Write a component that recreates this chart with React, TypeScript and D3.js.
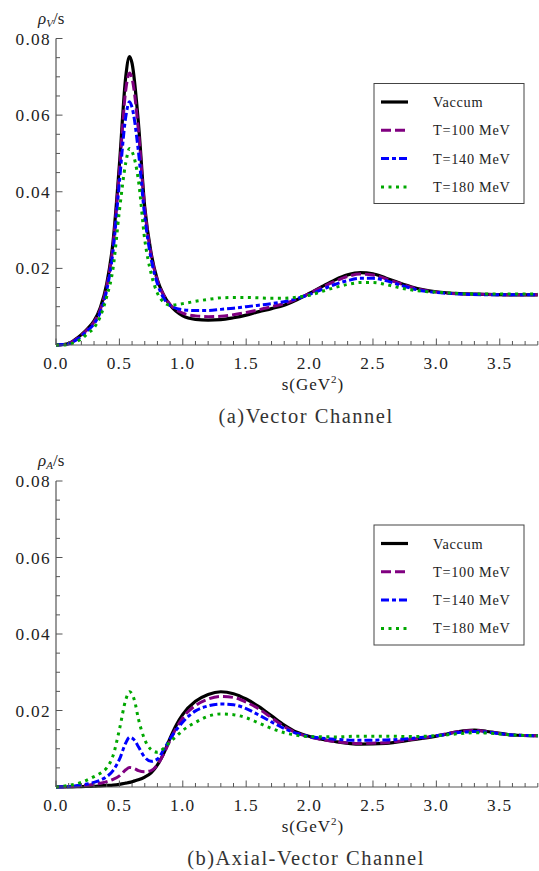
import React from "react";
import * as d3 from "d3";

// ---------- data ----------
const sTop = [0, 0.05, 0.1, 0.15, 0.2, 0.25, 0.3, 0.35, 0.4, 0.45, 0.5, 0.55, 0.58, 0.6, 0.65, 0.7, 0.75, 0.8, 0.85, 0.9, 1.0, 1.1, 1.2, 1.3, 1.4, 1.5, 1.6, 1.7, 1.8, 1.9, 2.0, 2.1, 2.2, 2.3, 2.4, 2.5, 2.6, 2.7, 2.8, 2.9, 3.0, 3.2, 3.4, 3.6, 3.8];

const vecVacuum = [0, 0.0001, 0.0004, 0.0014, 0.0027, 0.0043, 0.0063, 0.0098, 0.016, 0.027, 0.047, 0.07, 0.0753, 0.0735, 0.058, 0.036, 0.024, 0.017, 0.013, 0.0104, 0.0076, 0.0067, 0.0065, 0.0066, 0.0071, 0.0078, 0.0087, 0.0095, 0.0104, 0.0118, 0.0135, 0.0153, 0.017, 0.0183, 0.0189, 0.0186, 0.0175, 0.0163, 0.0152, 0.0144, 0.0139, 0.0134, 0.0132, 0.0131, 0.0131];
const vecT100 = [0, 0.0001, 0.0004, 0.0013, 0.0026, 0.0041, 0.006, 0.0093, 0.0153, 0.026, 0.0455, 0.0665, 0.071, 0.0695, 0.056, 0.0355, 0.0237, 0.0168, 0.013, 0.0106, 0.0083, 0.0076, 0.0074, 0.0075, 0.0079, 0.0085, 0.0092, 0.01, 0.0108, 0.012, 0.0135, 0.0151, 0.0166, 0.0179, 0.0185, 0.0183, 0.0173, 0.0162, 0.0151, 0.0143, 0.0138, 0.0133, 0.0132, 0.0131, 0.0131];
const vecT140 = [0, 0.0001, 0.0003, 0.0011, 0.0023, 0.0038, 0.0055, 0.0086, 0.0143, 0.0245, 0.0425, 0.0595, 0.0635, 0.062, 0.0505, 0.0335, 0.0225, 0.016, 0.0122, 0.0103, 0.0092, 0.009, 0.009, 0.0093, 0.0096, 0.01, 0.0104, 0.0108, 0.0113, 0.0121, 0.0132, 0.0145, 0.0158, 0.0168, 0.0174, 0.0174, 0.0168, 0.0158, 0.0148, 0.0141, 0.0137, 0.0133, 0.0131, 0.0131, 0.0131];
const vecT180 = [0, 0, 0.0002, 0.0007, 0.0016, 0.003, 0.0045, 0.0075, 0.0126, 0.02, 0.035, 0.0475, 0.0513, 0.0505, 0.043, 0.0275, 0.0187, 0.0135, 0.0112, 0.0104, 0.0108, 0.0114, 0.0119, 0.0123, 0.0124, 0.0124, 0.0123, 0.0122, 0.0122, 0.0125, 0.013, 0.014, 0.015, 0.0158, 0.0163, 0.0163, 0.0158, 0.015, 0.0144, 0.014, 0.0138, 0.0134, 0.0133, 0.0133, 0.0133];

const sBot = [0, 0.1, 0.2, 0.3, 0.35, 0.4, 0.45, 0.5, 0.55, 0.58, 0.62, 0.65, 0.7, 0.75, 0.8, 0.85, 0.9, 0.95, 1.0, 1.1, 1.2, 1.3, 1.4, 1.5, 1.6, 1.7, 1.8, 1.9, 2.0, 2.2, 2.4, 2.6, 2.8, 3.0, 3.2, 3.3, 3.4, 3.6, 3.8];

const axVacuum = [0, 0, 0.0001, 0.0002, 0.0003, 0.0004, 0.0005, 0.0007, 0.001, 0.0012, 0.0016, 0.0019, 0.0026, 0.0037, 0.0058, 0.0088, 0.0128, 0.0163, 0.019, 0.0224, 0.0242, 0.0249, 0.0244, 0.023, 0.021, 0.0186, 0.0162, 0.0143, 0.0132, 0.0119, 0.0112, 0.0114, 0.0123, 0.0133, 0.0146, 0.0149, 0.0145, 0.0136, 0.0134];
const axT100 = [0, 0.0001, 0.0003, 0.0007, 0.001, 0.0014, 0.002, 0.0029, 0.0045, 0.0051, 0.0048, 0.0043, 0.004, 0.0043, 0.0058, 0.0087, 0.0122, 0.0155, 0.0181, 0.0213, 0.023, 0.0237, 0.0234, 0.0222, 0.0204, 0.0181, 0.0158, 0.0141, 0.0131, 0.0119, 0.0114, 0.0116, 0.0124, 0.0134, 0.0146, 0.0148, 0.0145, 0.0136, 0.0134];
const axT140 = [0, 0.0001, 0.0005, 0.0012, 0.0018, 0.0027, 0.0043, 0.0072, 0.0115, 0.013, 0.0122, 0.0105, 0.0078, 0.0067, 0.0073, 0.0098, 0.0126, 0.015, 0.017, 0.0199, 0.0212, 0.0217, 0.0215, 0.0205, 0.0188, 0.017, 0.0153, 0.014, 0.0132, 0.0125, 0.0122, 0.0123, 0.0127, 0.0134, 0.0143, 0.0145, 0.0143, 0.0136, 0.0134];
const axT180 = [0, 0.0004, 0.0012, 0.0027, 0.0036, 0.005, 0.0082, 0.015, 0.0228, 0.0249, 0.0225, 0.0178, 0.0124, 0.0098, 0.0091, 0.0101, 0.0118, 0.0133, 0.0148, 0.0169, 0.0185, 0.0191, 0.0189, 0.0181, 0.0167, 0.0153, 0.0142, 0.0135, 0.0132, 0.0131, 0.0133, 0.0133, 0.0132, 0.0134, 0.014, 0.0142, 0.0141, 0.0136, 0.0134];

const seriesNames = ["Vaccum", "T=100 MeV", "T=140 MeV", "T=180 MeV"];
const xMajorTicks = [0, 0.5, 1.0, 1.5, 2.0, 2.5, 3.0, 3.5];
const yMajorTicks = [0.02, 0.04, 0.06, 0.08];

// ---------- styles ----------
const colors = ["#000000", "#800080", "#0000ff", "#00a800"];
const dashes = ["", "10,4", "8,3,4,3", "3,4.5"];
const widths = [3.2, 3, 3, 3];
const axisColor = "#555";
const FONT = "Liberation Serif, Times New Roman, serif";

const W = 539;
const H = 871;
const x0 = 56;
const x1 = 537.8;

const xScale = d3.scaleLinear().domain([0, 3.8]).range([x0, x1]);

interface PanelProps {
  top: number;
  bottom: number;
  s: number[];
  series: number[][];
  sub: string;
  caption: string;
  legendTop: number;
}

function Panel({ top, bottom, s, series, sub, caption, legendTop }: PanelProps) {
  const yScale = d3.scaleLinear().domain([0, 0.08]).range([bottom, top]);
  const line = (vals: number[]) =>
    d3
      .line<number>()
      .x((_, i) => xScale(s[i]))
      .y((v) => yScale(v))
      .curve(d3.curveMonotoneX)(vals) || "";

  const xMinor = d3.range(0, 39).map((k) => k / 10).filter((v) => v <= 3.8 + 1e-9);
  const yMinor = d3.range(1, 17).map((k) => k * 0.005);

  const legX = 374;
  const legW = 150;
  const legH = 120;
  const rowY = (i: number) => legendTop + 18.5 + i * 28.3;

  return (
    <g>
      {series.map((vals, i) => (
        <path
          key={i}
          d={line(vals)}
          fill="none"
          stroke={colors[i]}
          strokeWidth={widths[i]}
          strokeDasharray={dashes[i] || undefined}
          strokeLinejoin="round"
        />
      ))}
      <line x1={x0} x2={x1} y1={bottom} y2={bottom} stroke={axisColor} strokeWidth={1.2} />
      <line x1={x0} x2={x0} y1={top} y2={bottom} stroke={axisColor} strokeWidth={1.2} />
      {xMinor.map((v, i) => {
        const major = xMajorTicks.some((m) => Math.abs(m - v) < 1e-6);
        return (
          <line
            key={"xm" + i}
            x1={xScale(v)}
            x2={xScale(v)}
            y1={bottom}
            y2={bottom - (major ? 6.5 : 4)}
            stroke={axisColor}
            strokeWidth={1}
          />
        );
      })}
      {yMinor.map((v, i) => {
        const major = yMajorTicks.some((m) => Math.abs(m - v) < 1e-6);
        return (
          <line
            key={"ym" + i}
            x1={x0}
            x2={x0 + (major ? 6.5 : 4)}
            y1={yScale(v)}
            y2={yScale(v)}
            stroke={axisColor}
            strokeWidth={1}
          />
        );
      })}
      {xMajorTicks.map((v) => (
        <text
          key={"xl" + v}
          x={xScale(v)}
          y={bottom + 24}
          textAnchor="middle"
          fontFamily={FONT}
          fontSize={17.3}
          letterSpacing={1.3}
          fill="#222"
        >
          {v.toFixed(1)}
        </text>
      ))}
      {yMajorTicks.map((v) => (
        <text
          key={"yl" + v}
          x={51}
          y={yScale(v) + 6}
          textAnchor="end"
          fontFamily={FONT}
          fontSize={17.3}
          letterSpacing={1.3}
          fill="#222"
        >
          {v.toFixed(2)}
        </text>
      ))}
      <text x={38} y={top - 15} fontFamily={FONT} fontSize={17} fill="#222">
        <tspan fontStyle="italic">ρ</tspan>
        <tspan fontStyle="italic" fontSize={11} dy={3}>
          {sub}
        </tspan>
        <tspan dy={-3}>/s</tspan>
      </text>
      <text x={313} y={bottom + 45} textAnchor="middle" fontFamily={FONT} fontSize={17} letterSpacing={1} fill="#222">
        s(GeV
        <tspan fontSize={11} dy={-7}>
          2
        </tspan>
        <tspan dy={7}>)</tspan>
      </text>
      <text
        x={306}
        y={bottom + 78}
        textAnchor="middle"
        fontFamily={FONT}
        fontSize={20.5}
        letterSpacing={1.5}
        fill="#333"
      >
        {caption}
      </text>
      <rect x={legX} y={legendTop} width={legW} height={legH} fill="white" stroke="#444" strokeWidth={1} />
      {seriesNames.map((name, i) => (
        <g key={"lg" + i}>
          <line
            x1={381}
            x2={408}
            y1={rowY(i)}
            y2={rowY(i)}
            stroke={colors[i]}
            strokeWidth={widths[i]}
            strokeDasharray={dashes[i] || undefined}
          />
          <text x={433} y={rowY(i) + 5} fontFamily={FONT} fontSize={14.3} letterSpacing={0.7} fill="#222">
            {name}
          </text>
        </g>
      ))}
    </g>
  );
}

export default function App() {
  return (
    <svg
      width={W}
      height={H}
      viewBox={`0 0 ${W} ${H}`}
      style={{ position: "absolute", left: 0, top: 0, background: "white" }}
    >
      <rect x={0} y={0} width={W} height={H} fill="white" />
      <Panel
        top={38.5}
        bottom={345}
        s={sTop}
        series={[vecVacuum, vecT100, vecT140, vecT180]}
        sub="V"
        caption="(a)Vector Channel"
        legendTop={83.5}
      />
      <Panel
        top={481}
        bottom={787}
        s={sBot}
        series={[axVacuum, axT100, axT140, axT180]}
        sub="A"
        caption="(b)Axial-Vector Channel"
        legendTop={525}
      />
    </svg>
  );
}
